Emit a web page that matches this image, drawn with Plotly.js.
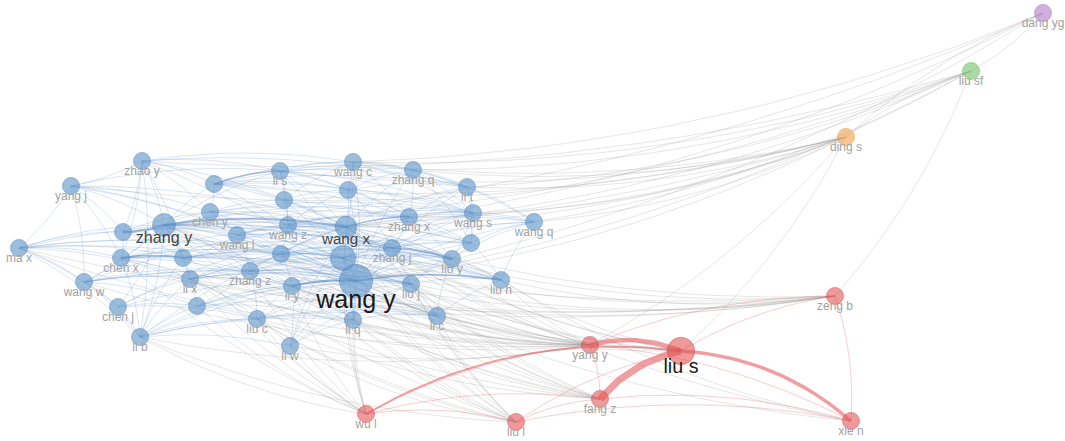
<!DOCTYPE html>
<html><head><meta charset="utf-8">
<script src="https://cdn.plot.ly/plotly-3.0.1.min.js"></script>
<style>html,body{margin:0;padding:0;background:#fff}#chart{width:1065px;height:441px}</style>
</head><body><div id="chart"></div>
<script>
// ---- data (node map coordinates, documents, clusters) ----
const nodeLabels = ["zhao y","yang j","ma x","zhang y","","chen x","wang w","chen j","li b","",
 "chen y","wang l","","li x","zhang z","","liu c","li s","","wang z",
 "","li y","li w","wang c","","wang x","","wang y","li q","zhang q",
 "zhang x","zhang j","liu j","li c","li t","wang s","","liu y","liu h","wang q",
 "zeng b","yang y","liu s","fang z","xie n","wu l","liu l","ding s","liu sf","dang yg"];
const nodeX = [142,71,19,164,123,121,84,118,140,214,210,237,183,190,250,197,257,280,284,288,
 281,292,290,353,348,346,343,356,353,413,409,392,411,437,467,473,471,452,501,534,
 835,590,681,600,851,366,516,846,971,1043];
const nodeY = [161,186,248,225,232,258,282,307,337,184,212,235,258,279,271,306,319,171,200,225,
 254,286,346,162,190,227,258,281,320,170,217,248,284,316,187,213,243,259,280,222,
 296,345,351,399,421,414,422,137,71,13];
const nodeDocs = [5,5,5,9,5,5,5,5,5,5,5,5,5,5,5,5,5,5,5,5,
 5,5,5,5,5,8,11,19,5,5,5,5,5,5,5,5,5,5,5,5,
 5,5,13,5,5,5,5,5,5,5];
const nodeCluster = [1,1,1,1,1,1,1,1,1,1,1,1,1,1,1,1,1,1,1,1,
 1,1,1,1,1,1,1,1,1,1,1,1,1,1,1,1,1,1,1,1,
 2,2,2,2,2,2,2,3,4,5];
// co-authorship links inside the blue cluster (1-based node ids)
const blueLinks = [
 "1:2,4,5,6,10,11,18,24,26,28,9,13,35",
 "2:3,4,5,6,11,12,26,28,7,18",
 "3:4,5,6,7,13,14,26,28,27,21,8,9",
 "4:6,7,8,9,10,11,12,13,14,15,18,20,21,27,28,31,32,36,38,39,22",
 "5:6,11,12,28,32,13",
 "6:7,14,15,22,26,27,28,32,33,9,21",
 "7:8,14,16,22,26,28,33,9,15",
 "8:9,14,16,28,26,17",
 "9:14,16,17,22,23,28,26,29,34,13",
 "10:11,19,24,25,26,28,30,31,36,35",
 "11:12,19,20,26,28,31,32,36",
 "12:13,15,20,21,26,27,28,31,32,38",
 "13:14,21,27,28,32,33,38,39",
 "14:15,16,21,22,27,28,32,33,39,17",
 "15:16,17,21,22,26,27,28,33,34,38",
 "16:17,22,28,29,33,34",
 "17:22,23,28,29,34,33",
 "18:19,24,25,26,28,30,35,36,31,20",
 "19:20,25,26,28,36,37,24",
 "20:21,25,26,27,28,31,32,36,37,38",
 "21:22,26,27,28,32,33,37,38,39",
 "22:23,27,29,32,33,34,39",
 "23:28,29,27,26,33",
 "24:25,26,28,30,35,31,36",
 "25:26,28,30,31,35,36,32",
 "26:27,28,29,30,32,33,34,35,36,37,38,39,40",
 "27:28,29,31,32,33,34,36,37,38,39,40",
 "28:29,30,31,32,33,34,35,36,37,38,40",
 "29:33,34,32",
 "30:31,35,36,37,40",
 "31:32,35,36,37,38,40",
 "32:33,36,37,39,40",
 "33:34,38,39,37",
 "34:38,39",
 "35:36,37,40",
 "36:37,40,38",
 "37:38,39,40",
 "38:39,40",
 "39:40"];
const blueStrong = [[4,5,2.5],[4,26,2],[28,39,1.6],[32,38,2],[22,28,2],[6,13,1.6],[26,31,1.5],[10,18,1.5]];
// links between clusters (grey)
const greyLinks = [
 "41:28,26,39,33,22,14,6,27,3,32,4",
 "42:28,26,27,4,14,6,22,21,13,33,34,29,23,9,17,15,32,38,39,12,7,3",
 "43:28,26,4,27,22,39,33,32",
 "44:28,26,27,4,22,21,33,34,14,29,17",
 "45:28,26,39",
 "46:28,26,27,4,22,23,29,9,17,14,16,15,6",
 "47:28,26,27,4,22,29,34,33,32,21,17,23,14,9",
 "48:35,30,36,40,24,26,28,31,4,18,10,2",
 "49:28,26,4,35,30,24,40,1",
 "50:28,26,4,24"];
const greyExtra = [[48,49],[50,49],[48,50],[49,41],[48,42],[48,43]];
// links inside the red cluster [source, target, strength]
const redLinks = [[42,43,4.5],[44,43,7],[43,45,3.5],[46,43,1.8],[46,42,0.8],[46,47,0.8],[47,43,0.8],
 [47,44,0.8],[42,44,0.8],[44,45,0.8],[47,45,0.8],[43,41,0.8],[41,45,0.8],[42,41,0.8],[46,44,0.8],[42,45,0.8]];

// ---- styles ----
const clusterColor = {1:"rgba(96,150,202,0.88)",2:"rgba(226,80,80,0.82)",3:"rgba(244,162,80,0.88)",4:"rgba(120,196,110,0.88)",5:"rgba(180,125,200,0.88)"};
const clusterLine = {1:"rgba(70,120,175,0.7)",2:"rgba(200,60,60,0.7)",3:"rgba(220,140,60,0.7)",4:"rgba(90,170,90,0.7)",5:"rgba(150,100,175,0.7)"};

function parse(list){const out=[];list.forEach(s=>{const [a,b]=s.split(":");b.split(",").forEach(t=>out.push([+a,+t]));});return out;}
function curvePts(i,j,k){
  const x0=nodeX[i-1],y0=nodeY[i-1],x1=nodeX[j-1],y1=nodeY[j-1];
  const dx=x1-x0,dy=y1-y0;
  const cx=(x0+x1)/2+k*dy, cy=(y0+y1)/2-k*dx;
  const xs=[],ys=[];
  for(let s=0;s<=20;s++){const t=s/20;
    xs.push((1-t)*(1-t)*x0+2*t*(1-t)*cx+t*t*x1);
    ys.push((1-t)*(1-t)*y0+2*t*(1-t)*cy+t*t*y1);}
  xs.push(null);ys.push(null);return [xs,ys];
}
const groups={};
function addEdge(i,j,color,width,k){
  const key=color+"|"+width+"|"+k;
  if(!groups[key]) groups[key]={x:[],y:[],color,width};
  const [xs,ys]=curvePts(i,j,k);
  groups[key].x.push(...xs);groups[key].y.push(...ys);
}
const seen=new Set();
parse(greyLinks).concat(greyExtra).forEach(([a,b])=>addEdge(a,b,"rgba(150,150,150,0.3)",0.8,0.09));
parse(blueLinks).forEach(([a,b])=>{const kk=Math.min(a,b)+"-"+Math.max(a,b);if(seen.has(kk))return;seen.add(kk);addEdge(a,b,"rgba(95,145,205,0.27)",0.9,0.08);});
blueStrong.forEach(([a,b,w])=>addEdge(a,b,"rgba(80,130,195,0.5)",w,0.08));
redLinks.forEach(([a,b,w])=>addEdge(a,b,w>1?"rgba(228,95,100,0.6)":"rgba(228,110,115,0.42)",w,w>1?0.17:0.1));

const traces=[];
Object.values(groups).forEach(g=>traces.push({type:"scatter",mode:"lines",x:g.x,y:g.y,hoverinfo:"skip",
  line:{color:g.color,width:g.width},showlegend:false}));

const diam=nodeDocs.map(d=>7.6*Math.sqrt(d));
traces.push({type:"scatter",mode:"markers",x:nodeX,y:nodeY,hovertext:nodeLabels,hoverinfo:"text",showlegend:false,
  marker:{size:diam,color:nodeCluster.map(c=>clusterColor[c]),line:{color:nodeCluster.map(c=>clusterLine[c]),width:1}}});

const fontSize=nodeDocs.map(d=>d<=5?12:8+0.9*d);
const labelColor=nodeDocs.map(d=>d>=13?"#1a1a1a":(d>5?"#444":"#a2a2a2"));
traces.push({type:"scatter",mode:"text",x:nodeX,
  y:nodeY.map((y,i)=>y+0.3*diam[i]+0.45*fontSize[i]),
  text:nodeLabels,textposition:"middle center",hoverinfo:"skip",showlegend:false,
  textfont:{family:"Liberation Sans, Arial, sans-serif",size:fontSize,color:labelColor}});

const layout={width:1065,height:441,margin:{l:0,r:0,t:0,b:0},paper_bgcolor:"#fff",plot_bgcolor:"#fff",
  xaxis:{range:[0,1065],visible:false,fixedrange:true},
  yaxis:{range:[441,0],visible:false,fixedrange:true},showlegend:false};
Plotly.newPlot("chart",traces,layout,{displayModeBar:false,staticPlot:true});
</script></body></html>
